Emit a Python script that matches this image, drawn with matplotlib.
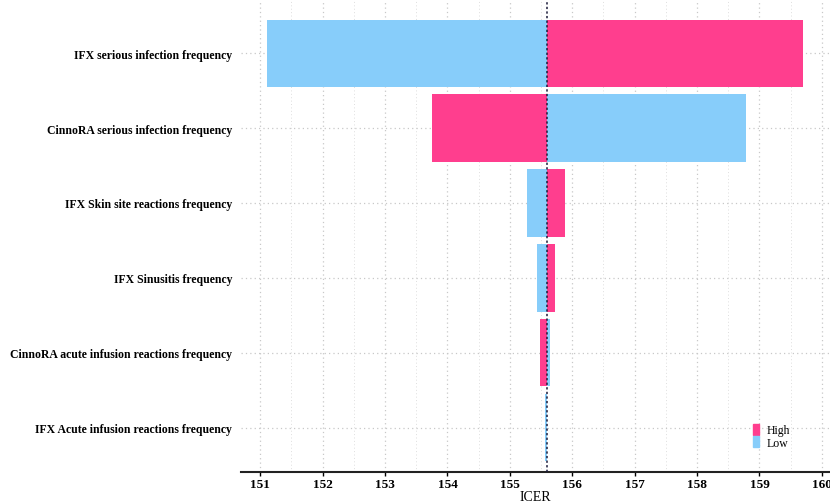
import matplotlib
matplotlib.use("Agg")
import matplotlib.pyplot as plt
import numpy as np
from matplotlib.patches import Patch

# Tornado diagram data (ICER at low / high parameter values)
categories = [
    "IFX serious infection frequency",
    "CinnoRA serious infection frequency",
    "IFX Skin site reactions frequency",
    "IFX Sinusitis frequency",
    "CinnoRA acute infusion reactions frequency",
    "IFX Acute infusion reactions frequency",
]
icer_low = [151.11, 158.78, 155.27, 155.44, 155.65, 155.56]
icer_high = [159.70, 153.75, 155.89, 155.72, 155.49, 155.60]
base_icer = 155.59
x_ticks = [151, 152, 153, 154, 155, 156, 157, 158, 159, 160]

high_col = "#FF3E8E"
low_col = "#87CDFA"
serif = ["Liberation Serif", "DejaVu Serif"]

fig = plt.figure(figsize=(8.30, 5.02), dpi=100)
ax = fig.add_axes([0.29, 0.0584, 0.71, 0.9416])

# top row drawn at the top
ypos = np.arange(len(categories))[::-1]
low = np.array(icer_low)
high = np.array(icer_high)

ax.barh(ypos, high - base_icer, left=base_icer, height=0.9, color=high_col,
        linewidth=0, zorder=3)
ax.barh(ypos, low - base_icer, left=base_icer, height=0.9, color=low_col,
        linewidth=0, zorder=3)

# base-case ICER line
ax.axvline(base_icer, color="#1b1b3a", linestyle=(0, (1.5, 1.5)), linewidth=1.1, zorder=4)

ax.set_xticks(x_ticks)
ax.set_xticks(np.arange(151.5, 160.0, 1.0), minor=True)
ax.set_yticks(ypos)
ax.set_yticklabels(categories)
ax.set_xlim(150.686, 160.13)
ax.set_ylim(-0.589, 5.724)

ax.grid(True, which="major", axis="both", color="#c8c8c8", linestyle=(0, (1, 2.5)), linewidth=0.9, zorder=0)
ax.grid(True, which="minor", axis="x", color="#dedede", linestyle=(0, (1, 2.5)), linewidth=0.7, zorder=0)

for side in ["top", "right", "left"]:
    ax.spines[side].set_visible(False)
ax.spines["bottom"].set_linewidth(1.5)
ax.spines["bottom"].set_color("#222222")

ax.tick_params(axis="y", length=0, pad=6)
ax.tick_params(axis="x", which="major", length=3, width=1, pad=1.5)
ax.tick_params(axis="x", which="minor", length=0)

for lbl in ax.get_yticklabels():
    lbl.set_fontfamily(serif)
    lbl.set_fontweight("bold")
    lbl.set_fontsize(8.5)
for lbl in ax.get_xticklabels():
    lbl.set_fontfamily(serif)
    lbl.set_fontweight("bold")
    lbl.set_fontsize(9.5)

ax.set_xlabel("ICER", fontfamily=serif, fontsize=10, labelpad=0)

handles = [Patch(color=high_col, label="High"), Patch(color=low_col, label="Low")]
ax.legend(handles=handles, loc="lower left", bbox_to_anchor=(0.855, 0.031),
          frameon=False, prop={"family": serif, "size": 8.5},
          handlelength=0.55, handleheight=1.0, handletextpad=0.6,
          labelspacing=0.0, borderpad=0.2)

fig.savefig("out.png", dpi=100)
